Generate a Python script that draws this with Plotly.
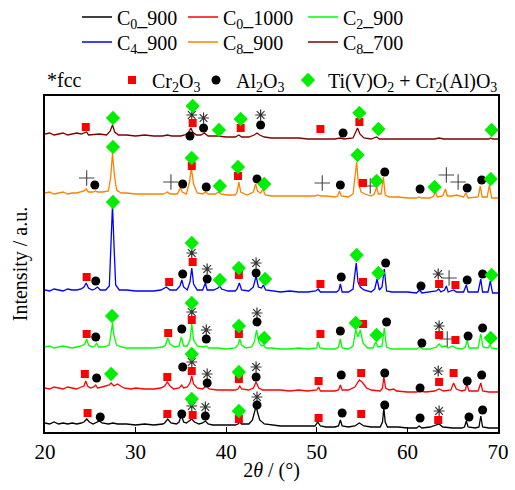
import plotly.graph_objects as go

FONT = "Liberation Serif"

# ---------------- data (intensity, arbitrary stacked units) ----------------
series_names = ["C<sub>0</sub>_900", "C<sub>0</sub>_1000", "C<sub>2</sub>_900",
                "C<sub>4</sub>_900", "C<sub>8</sub>_900", "C<sub>8</sub>_700"]
series_colors = ["#000000", "#ff0000", "#00ff00", "#0000ff", "#ff8000", "#800000"]

c0_900 = [(20.0,9),(20.5,8),(21,10),(21.5,8),(22,9),(22.5,8),(23,9),(23.5,8),(24,9),(24.3,10),(24.6,13),(24.9,10),
          (25.3,8),(25.7,10),(26.0,11),(26.3,9),(27,8),(27.5,9),(28,8),(29,8),(30,7),(31,8),(32,7),(33,8),(33.2,9),
          (33.55,13),(33.9,9),(34.5,8),(34.8,10),(35.05,17),(35.3,10),(35.6,9),(35.9,11),(36.2,13),(36.5,10),(37,8),
          (37.4,9),(37.7,11),(38.0,8),(38.5,7),(39,7),(40,7),(41,7),(41.3,8),(41.5,10),(41.7,8),(42.5,8),(42.9,12),
          (43.15,20),(43.3,26),(43.45,20),(43.7,12),(44.2,8),(45,7),(46,6),(47,6),(48,6),(49,6),(49.8,6),(50.1,10),
          (50.4,6),(51,5),(52,5),(52.4,6),(52.6,12),(52.8,6),(53.5,5),(54.2,6),(54.7,9),(55.2,6),(56,5),(57,5),
          (57.25,10),(57.4,24),(57.55,10),(57.8,5),(58.5,5),(59,5),(60,4),(61,4),(61.3,6),(61.6,4),(62.5,5),(63.2,7),
          (63.5,8),(63.9,5),(65,4),(66,4),(66.3,5),(66.5,11),(66.7,5),(67.5,4),(67.9,5),(68.1,16),(68.3,5),(69,4),(70,4)]

c0_1000 = [(20,44),(20.5,43),(21,45),(21.5,44),(22,43),(22.5,45),(23,44),(23.5,43),(24,45),(24.3,46),(24.5,51),(24.7,46),
           (25,44),(25.4,45),(25.6,47),(25.8,44),(26.3,45),(26.8,46),(27.1,47),(27.3,49),(27.6,46),(28,48),(28.3,46),
           (28.7,44),(29.5,43),(30,44),(31,43),(32,43),(32.8,44),(33.2,46),(33.5,50),(33.8,46),(34.2,43),(34.8,44),
           (35.1,47),(35.3,44),(35.7,45),(36.0,49),(36.2,56),(36.4,48),(36.8,44),(37.4,43),(37.8,46),(38.1,43),(39,42),
           (40,42),(41,42),(41.3,43),(41.5,46),(41.7,43),(42.5,42),(43.0,44),(43.3,50),(43.6,44),(44,42),(45,42),
           (46,42),(47,41),(48,42),(49,41),(50,42),(50.2,45),(50.4,41),(51,41),(52,41),(52.4,42),(52.6,47),(52.8,42),
           (53.5,42),(54.2,45),(54.7,52),(55.0,50),(55.5,44),(56,42),(57,41),(57.25,44),(57.4,55),(57.6,44),(58,42),
           (58.5,43),(58.8,41),(60,40),(61,40),(61.4,41),(62,40),(63,41),(63.5,43),(64,41),(64.8,42),(65.1,49),
           (65.4,43),(66,41),(66.4,42),(66.55,48),(66.8,41),(67.8,41),(68.1,49),(68.3,41),(69,40),(70,40)]

c2_900 = [(20,85),(20.5,86),(21,84),(21.5,85),(22,86),(22.5,85),(23,84),(23.5,85),(24,86),(24.4,88),(24.6,93),(24.8,87),
          (25.2,85),(25.5,86),(25.7,89),(25.9,85),(26.5,85),(27.1,87),(27.35,100),(27.45,109),(27.6,97),(27.9,87),
          (28.5,85),(29,84),(30,84),(31,84),(32,84),(33,85),(33.3,87),(33.55,94),(33.8,88),(34.3,85),(34.8,86),
          (35.05,95),(35.3,86),(35.7,86),(36.0,92),(36.2,108),(36.4,92),(36.8,86),(37.5,85),(37.8,86),(38.1,84),
          (39,84),(40,83),(41,84),(41.3,87),(41.5,93),(41.7,87),(42.2,84),(42.8,85),(43.1,90),(43.35,102),(43.6,90),
          (43.9,86),(44.1,87),(44.4,84),(45,84),(46,83),(47,83),(48,84),(49,83),(50,84),(50.15,90),(50.35,84),(51,83),
          (52,83),(52.4,85),(52.6,93),(52.8,84),(53.5,83),(54.0,86),(54.3,102),(54.55,95),(54.8,102),(55.1,89),
          (55.6,84),(56.2,84),(56.5,90),(56.75,85),(57.2,86),(57.45,104),(57.7,85),(58.2,83),(59,83),(60,83),(61,83),
          (61.4,85),(61.7,83),(62.5,83),(63.2,85),(63.5,88),(63.8,85),(64.2,86),(64.5,84),(65.0,86),(65.3,84),(66,83),
          (66.4,85),(66.6,92),(66.8,84),(67.8,84),(68.1,98),(68.35,85),(68.9,84),(69.1,87),(69.3,84),(70,83)]

c4_900 = [(20,142),(20.5,141),(21,143),(21.5,142),(22,141),(22.5,143),(23,142),(23.5,142),(24,143),(24.3,145),
          (24.55,149),(24.8,144),(25.2,142),(25.5,143),(25.8,145),(26.1,142),(26.7,142),(27.1,146),(27.3,200),
          (27.45,227),(27.6,190),(27.8,147),(28.2,142),(29,142),(30,141),(31,141),(32,141),(32.8,142),(33.2,144),
          (33.4,145),(33.8,142),(34.5,142),(34.9,146),(35.1,152),(35.3,145),(35.7,142),(36.0,150),(36.2,164),
          (36.4,148),(36.8,142),(37.4,142),(37.7,149),(37.9,142),(38.6,142),(39.1,144),(39.3,146),(39.5,143),
          (40.2,141),(41,141),(41.2,143),(41.45,149),(41.7,142),(42.5,141),(43.0,145),(43.3,156),(43.55,145),
          (43.9,144),(44.1,147),(44.35,142),(45,141),(46,140),(47,141),(48,140),(49,140),(49.9,141),(50.15,143),
          (50.4,140),(51,140),(52.2,140),(52.45,142),(52.6,148),(52.8,140),(53.5,140),(54.0,143),(54.35,169),
          (54.55,150),(54.8,145),(55.2,142),(56,140),(56.4,143),(56.65,153),(56.9,142),(57.2,145),(57.45,163),
          (57.7,141),(58.3,140),(59,140),(60,140),(61,139),(61.35,142),(61.6,139),(62.5,140),(63.2,141),(63.45,143),
          (63.7,140),(64.1,142),(64.3,146),(64.5,140),(64.9,141),(65.1,142),(65.4,140),(66.2,140),(66.5,147),
          (66.7,140),(67.8,140),(68.1,153),(68.3,140),(68.9,140),(69.15,151),(69.4,139),(70,139)]

c8_900 = [(20,239),(20.5,240),(21,238),(21.5,239),(22,240),(22.5,238),(23,239),(23.5,239),(24,240),(24.3,241),
          (24.55,243),(24.8,240),(25.3,240),(25.6,241),(25.8,240),(26.4,240),(27.0,241),(27.25,255),(27.45,279),
          (27.65,258),(27.9,242),(28.4,239),(29,239),(30,238),(31,238),(32,238),(33,238),(33.3,239),(33.5,240),
          (33.8,238),(34.6,238),(34.95,244),(35.15,240),(35.6,238),(35.95,250),(36.15,264),(36.4,248),(36.8,239),
          (37.4,238),(37.7,240),(38,238),(38.8,238),(39.15,240),(39.4,238),(40,237),(41,237),(41.2,240),(41.4,250),
          (41.6,240),(42.3,237),(43.0,240),(43.25,248),(43.45,241),(43.8,239),(44.05,243),(44.3,237),(45,236),
          (46,236),(47,236),(48,236),(49,236),(49.8,236),(50.1,237),(50.4,236),(51,236),(52,235),(52.3,236),
          (52.5,241),(52.7,236),(53.5,235),(54.0,238),(54.25,260),(54.4,270),(54.6,248),(54.9,240),(55.3,238),
          (56,236),(56.35,238),(56.6,245),(56.8,238),(57.1,238),(57.35,255),(57.55,237),(58,235),(59,235),(60,234),
          (61,234),(61.3,235),(61.6,234),(62.5,234),(62.9,236),(63.1,240),(63.3,235),(63.9,236),(64.2,243),
          (64.4,236),(65.0,236),(65.4,237),(65.8,236),(66.2,235),(66.45,239),(66.7,234),(67.8,235),(68.05,246),
          (68.25,235),(68.8,235),(69.05,247),(69.3,234),(70,234)]

c8_700 = [(20,298),(20.5,299),(21,297),(21.5,298),(22,299),(22.5,297),(23,298),(23.5,299),(24,298),(24.4,299),
          (24.6,300),(24.8,297),(25.5,298),(26,298),(26.8,297),(27.2,301),(27.45,307),(27.7,300),(28.1,297),(29,297),
          (30,296),(31,297),(32,296),(33,296),(33.5,297),(34,296),(35,296),(35.4,297),(35.8,299),(36.1,304),
          (36.3,300),(36.7,297),(37.2,297),(37.6,299),(38,296),(39,296),(40,295),(41,295),(41.4,297),(41.7,295),
          (42.5,295),(43.1,297),(43.4,299),(43.7,297),(44.2,295),(45,294),(46,294),(47,294),(48,294),(49,293),
          (50,293),(51,293),(52,293),(52.6,294),(53,293),(54,294),(54.3,300),(54.5,304),(54.75,298),(55.2,294),
          (56,293),(56.6,295),(56.9,293),(58,293),(59,293),(60,293),(61,293),(62,293),(63,293),(63.5,294),(64,293),
          (65,293),(66,293),(67,293),(68,293),(69,293),(69.2,294),(69.4,293),(70,293)]

series_data = [c0_900, c0_1000, c2_900, c4_900, c8_900, c8_700]

# phase markers (2theta, height)
cr2o3_pts = [(24.5,305),(36.3,309),(41.6,304),(50.4,303),(54.7,310),
             (36.2,266),(41.3,256),(55.1,249),
             (24.6,155),(33.7,150),(36.3,170),(41.4,157),(50.4,148),(55.1,150),(63.5,148),(65.3,147),
             (24.6,98),(33.6,99),(36.2,112),(41.4,98),(50.4,98),(55.1,108),(63.5,97),(65.3,92),
             (24.4,58),(33.5,55),(36.2,61),(41.4,53),(50.2,51),(54.9,59),(63.5,50),(65.1,59),
             (24.7,19),(33.5,18),(36.3,17),(41.4,13),(50.2,14),(54.9,18),(63.4,12)]
al2o3_pts = [(36.0,296),(37.5,304),(43.8,307),(52.9,299),
             (25.5,247),(35.2,248),(37.8,245),(43.4,253),(52.6,247),(57.5,260),(61.4,243),(66.6,244),(68.2,252),
             (25.6,151),(35.2,158),(37.9,153),(43.3,159),(52.7,155),(57.6,169),(61.5,146),(66.6,152),(68.3,158),
             (25.6,95),(35.1,103),(37.8,93),(43.4,110),(52.6,101),(57.7,110),(61.6,89),(66.7,96),(68.3,104),
             (25.7,54),(35.2,65),(37.9,49),(43.3,55),(52.7,57),(57.5,59),(61.4,44),(66.6,51),(68.2,57),
             (26.1,15),(35.1,18),(37.7,16),(43.4,27),(52.8,19),(57.5,27),(61.4,14),(66.8,15),(68.3,22)]
tio2_pts = [(27.5,314),(36.3,326),(39.2,302),(41.6,313),(54.7,319),(56.8,303),(69.3,302),
            (27.5,285),(36.2,274),(39.3,246),(41.3,265),(44.2,248),(54.5,277),(56.6,251),(63.0,245),(69.2,253),
            (27.5,230),(36.2,189),(39.3,152),(41.4,164),(44.3,153),(54.4,177),(56.8,159),(69.3,157),
            (27.4,116),(36.2,129),(41.4,106),(44.2,94),(54.3,109),(56.6,97),(69.2,94),
            (27.3,58),(36.2,78),(41.4,60),
            (36.2,33),(41.4,21)]
fcc_pts = [(36.2,317),(37.5,314),(43.8,317),
           (36.2,179),(37.9,163),(43.3,169),(63.4,158),
           (36.2,120),(37.8,102),(43.4,119),(63.5,106),
           (36.2,70),(37.9,58),(43.3,65),(63.4,61),
           (36.2,26),(37.7,25),(43.4,35),(63.5,21)]
plus_pts = [(24.6,254),(33.9,250),(50.6,249),(55.9,246),(64.3,257),(65.6,250),
            (64.6,154),(64.4,93)]

x_ticks = [20, 30, 40, 50, 60, 70]

# ---------------- layout helpers ----------------
L, R, T, B = 45, 17, 96, 58
W, H = 515, 490
PW, PH = W - L - R, H - T - B

def px_x(px):
    return (px - L) / PW

def px_y(py):
    return (H - B - py) / PH

# legend slot (left px, row centre px) for each series, and for each phase marker
line_slots = [(77, 17), (183, 17), (303, 17), (77, 42), (183, 42), (303, 42)]
phase_slots = [(112, 80), (196, 80), (288, 80)]

fig = go.Figure()
legend_layouts = {}

for i, (name, color, pts, slot) in enumerate(zip(series_names, series_colors, series_data, line_slots)):
    lid = "legend" if i == 0 else f"legend{i + 1}"
    fig.add_trace(go.Scatter(
        x=[p[0] for p in pts], y=[p[1] for p in pts], mode="lines", name=name,
        line=dict(color=color, width=1.3), legend=lid))
    legend_layouts[lid] = dict(orientation="h", x=px_x(slot[0]), xanchor="left",
                               y=px_y(slot[1]), yanchor="middle",
                               font=dict(family=FONT, size=20), bgcolor="rgba(0,0,0,0)")

def add_markers(pts, name, marker, lid=None, slot=None):
    fig.add_trace(go.Scatter(
        x=[p[0] for p in pts], y=[p[1] for p in pts], mode="markers", name=name,
        marker=marker, showlegend=lid is not None, legend=lid or "legend"))
    if lid is not None:
        legend_layouts[lid] = dict(orientation="h", x=px_x(slot[0]), xanchor="left",
                                   y=px_y(slot[1]), yanchor="middle",
                                   font=dict(family=FONT, size=20), bgcolor="rgba(0,0,0,0)")

add_markers(fcc_pts, "fcc", dict(symbol="asterisk-open", size=9, color="#333333",
                                 line=dict(color="#333333", width=1.2)))
add_markers(plus_pts, "plus", dict(symbol="cross-thin-open", size=11, color="#444444",
                                   line=dict(color="#444444", width=1.1)))
add_markers(cr2o3_pts, "Cr<sub>2</sub>O<sub>3</sub>", dict(symbol="square", size=8, color="#ff0000"),
            "legend7", phase_slots[0])
add_markers(al2o3_pts, "Al<sub>2</sub>O<sub>3</sub>", dict(symbol="circle", size=9, color="#000000"),
            "legend8", phase_slots[1])
add_markers(tio2_pts, "Ti(V)O<sub>2</sub> + Cr<sub>2</sub>(Al)O<sub>3</sub>",
            dict(symbol="diamond", size=11, color="#00ee00"), "legend9", phase_slots[2])

fig.update_layout(
    width=W, height=H,
    margin=dict(l=L, r=R, t=T, b=B, autoexpand=False),
    paper_bgcolor="white", plot_bgcolor="white",
    font=dict(family=FONT, size=20, color="black"),
    annotations=[dict(text="*fcc", x=0, xref="paper", xanchor="left", y=px_y(80), yref="paper",
                      yanchor="middle", showarrow=False, font=dict(family=FONT, size=20))],
    showlegend=True,
    **legend_layouts,
)

fig.update_xaxes(range=[20, 70], tickvals=x_ticks, ticktext=[str(t) for t in x_ticks],
                 ticks="inside", ticklen=5, tickwidth=1, tickcolor="black",
                 showline=True, linecolor="black", linewidth=1.5, mirror=True,
                 showgrid=False, zeroline=False,
                 tickfont=dict(family=FONT, size=21),
                 title=dict(text="2<i>θ</i> / (°)", font=dict(family=FONT, size=20), standoff=0))
fig.update_yaxes(range=[0, 336], showticklabels=False, ticks="",
                 showline=True, linecolor="black", linewidth=1.5, mirror=True,
                 showgrid=False, zeroline=False,
                 title=dict(text="Intensity / a.u.", font=dict(family=FONT, size=20), standoff=10))

fig.write_html("out.html", config={"displayModeBar": False},
               post_script="document.body.style.margin='0';")
